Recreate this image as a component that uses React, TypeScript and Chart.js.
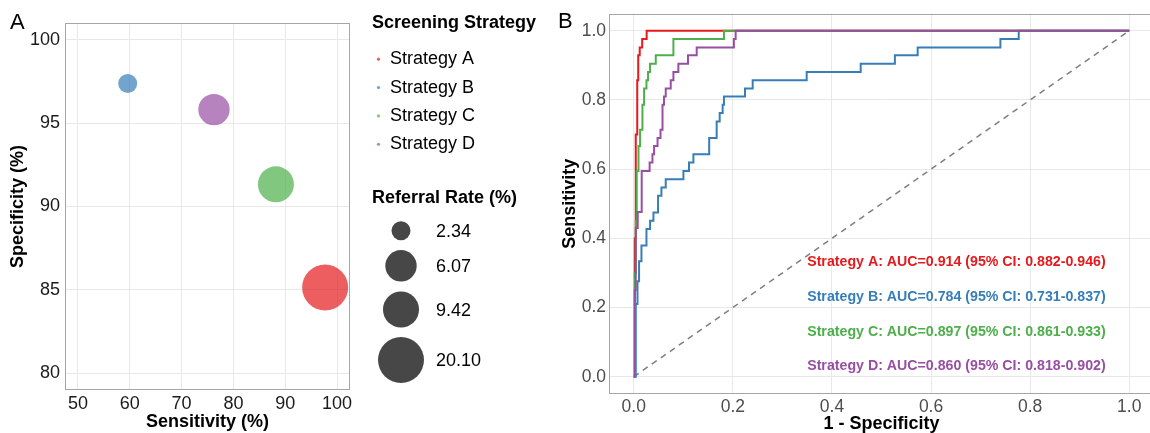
import React, { useEffect, useRef } from 'react';
import { Chart, registerables } from 'chart.js';

Chart.register(...registerables);

const FONT = '"Liberation Sans", Arial, Helvetica, sans-serif';

// ---------- Panel A data ----------
const strategies = ['Strategy A', 'Strategy B', 'Strategy C', 'Strategy D'];
const colors = ['#E41A1C', '#377EB8', '#4DAF4A', '#984EA3'];
const sensitivity = [97.7, 59.6, 88.2, 76.25];
const specificity = [85.15, 97.37, 91.33, 95.81];
const referralRate = [20.1, 2.34, 9.42, 6.07];
const referralBreaks = [2.34, 6.07, 9.42, 20.1];
const sensTicks = [50, 60, 70, 80, 90, 100];
const specTicks = [80, 85, 90, 95, 100];

// ---------- Panel B data (ROC step corners: FPR, TPR) ----------
const rocA_fpr = [0, 0.002, 0.004, 0.007, 0.009, 0.012, 0.017, 0.026, 1.0];
const rocA_tpr = [0, 0.4, 0.7, 0.857, 0.929, 0.952, 0.976, 1.0, 1.0];

const rocB_fpr = [0, 0.004, 0.0075, 0.0107, 0.0155, 0.0256, 0.0329, 0.0397, 0.049, 0.0558, 0.0645, 0.1002, 0.1115, 0.1204, 0.1522, 0.1673, 0.1734, 0.1794, 0.182, 0.2245, 0.24, 0.349, 0.458, 0.527, 0.573, 0.74, 0.777, 1.0];
const rocB_tpr = [0, 0.21, 0.276, 0.334, 0.379, 0.427, 0.451, 0.475, 0.523, 0.547, 0.571, 0.595, 0.619, 0.643, 0.69, 0.738, 0.762, 0.786, 0.81, 0.833, 0.857, 0.881, 0.905, 0.929, 0.952, 0.976, 1.0, 1.0];

const rocC_fpr = [0, 0.002, 0.004, 0.006, 0.0095, 0.0127, 0.0175, 0.0208, 0.0256, 0.0288, 0.0329, 0.0444, 0.08, 0.182, 1.0];
const rocC_tpr = [0, 0.3, 0.45, 0.595, 0.667, 0.714, 0.786, 0.833, 0.857, 0.881, 0.905, 0.929, 0.976, 1.0, 1.0];

const rocD_fpr = [0, 0.002, 0.004, 0.008, 0.016, 0.032, 0.0377, 0.041, 0.048, 0.054, 0.058, 0.061, 0.0645, 0.0746, 0.08, 0.09, 0.1095, 0.127, 0.202, 0.2056, 1.0];
const rocD_tpr = [0, 0.25, 0.43, 0.476, 0.595, 0.619, 0.643, 0.667, 0.69, 0.714, 0.786, 0.81, 0.833, 0.857, 0.881, 0.905, 0.929, 0.952, 0.976, 1.0, 1.0];

const auc = [0.914, 0.784, 0.897, 0.86];
const ciLow = [0.882, 0.731, 0.861, 0.818];
const ciHigh = [0.946, 0.837, 0.933, 0.902];
const labelY = [0.33, 0.23, 0.13, 0.03];
const labelX = 0.35;
const rocTicks = [0, 0.2, 0.4, 0.6, 0.8, 1.0];

function rgba(hex: string, a: number) {
  const n = parseInt(hex.slice(1), 16);
  return `rgba(${(n >> 16) & 255},${(n >> 8) & 255},${n & 255},${a})`;
}

const rMin = 9.5;
const rMax = 23;
function radius(v: number) {
  const lo = Math.min(...referralRate);
  const hi = Math.max(...referralRate);
  return rMin + (rMax - rMin) * Math.sqrt((v - lo) / (hi - lo));
}

function stepPoints(f: number[], t: number[]) {
  const pts = [{ x: f[0], y: t[0] }];
  for (let i = 1; i < f.length; i++) {
    pts.push({ x: f[i], y: t[i - 1] });
    pts.push({ x: f[i], y: t[i] });
  }
  return pts;
}

const framePlugin = {
  id: 'frame',
  afterDatasetsDraw(chart: any) {
    const { ctx, chartArea } = chart;
    ctx.save();
    ctx.strokeStyle = '#a6a6a6';
    ctx.lineWidth = 1;
    const l = Math.round(chartArea.left) + 0.5;
    const t = Math.round(chartArea.top) + 0.5;
    const r = Math.round(chartArea.right) - 0.5;
    const b = Math.round(chartArea.bottom) - 0.5;
    ctx.strokeRect(l, t, r - l, b - t);
    ctx.restore();
  },
};

const legendPluginA = {
  id: 'legendA',
  afterDraw(chart: any) {
    const ctx = chart.ctx;
    ctx.save();
    ctx.textAlign = 'left';
    ctx.fillStyle = '#000';
    ctx.font = `22px ${FONT}`;
    ctx.textBaseline = 'alphabetic';
    ctx.fillText('A', 10, 29);

    ctx.font = `bold 18px ${FONT}`;
    ctx.fillText('Screening Strategy', 372, 27.7);
    ctx.font = `18px ${FONT}`;
    ctx.textBaseline = 'middle';
    strategies.forEach((s, i) => {
      const y = 59.2 + i * 28.35;
      ctx.fillStyle = rgba(colors[i], 0.7);
      ctx.beginPath();
      ctx.arc(378.5, y, 1.6, 0, Math.PI * 2);
      ctx.fill();
      ctx.fillStyle = '#000';
      ctx.fillText(s, 390, y);
    });
    ctx.textBaseline = 'alphabetic';
    ctx.font = `bold 18px ${FONT}`;
    ctx.fillText('Referral Rate (%)', 372, 202.7);
    const ys = [230.8, 265.8, 309.5, 360];
    ctx.font = `18px ${FONT}`;
    ctx.textBaseline = 'middle';
    referralBreaks.forEach((v, i) => {
      ctx.fillStyle = 'rgba(0,0,0,0.72)';
      ctx.beginPath();
      ctx.arc(401, ys[i], radius(v), 0, Math.PI * 2);
      ctx.fill();
      ctx.fillStyle = '#000';
      ctx.fillText(v.toFixed(2), 436, ys[i] + 1.5);
    });
    ctx.restore();
  },
};

const annotPluginB = {
  id: 'annotB',
  afterDatasetsDraw(chart: any) {
    const ctx = chart.ctx;
    const xs = chart.scales.x;
    const ys = chart.scales.y;
    ctx.save();
    ctx.textAlign = 'left';
    ctx.textBaseline = 'middle';
    ctx.font = `bold 14.2px ${FONT}`;
    strategies.forEach((s, i) => {
      ctx.fillStyle = colors[i];
      const txt = `${s}: AUC=${auc[i].toFixed(3)} (95% CI: ${ciLow[i].toFixed(3)}-${ciHigh[i].toFixed(3)})`;
      ctx.fillText(txt, xs.getPixelForValue(labelX), ys.getPixelForValue(labelY[i]));
    });
    ctx.fillStyle = '#000';
    ctx.font = `22px ${FONT}`;
    ctx.textBaseline = 'alphabetic';
    ctx.fillText('B', 13, 28);
    ctx.restore();
  },
};

export default function App() {
  const refA = useRef<HTMLCanvasElement>(null);
  const refB = useRef<HTMLCanvasElement>(null);

  useEffect(() => {
    Chart.defaults.font.family = FONT;
    Chart.defaults.color = '#000';

    const chartA = new Chart(refA.current as HTMLCanvasElement, {
      type: 'bubble',
      data: {
        datasets: strategies.map((s, i) => ({
          label: s,
          data: [{ x: sensitivity[i], y: specificity[i], r: radius(referralRate[i]) }],
          backgroundColor: rgba(colors[i], 0.7),
          borderWidth: 0,
          hoverRadius: 0,
        })),
      },
      options: {
        animation: false,
        responsive: false,
        events: [],
        layout: { padding: { left: 0, top: 14, right: 195, bottom: 0 } },
        plugins: { legend: { display: false }, tooltip: { enabled: false } },
        scales: {
          x: {
            type: 'linear',
            min: 47.5,
            max: 102.5,
            afterBuildTicks: (s: any) => { s.ticks = sensTicks.map((v) => ({ value: v })); },
            afterFit: (s: any) => { s.height = 43; },
            grid: { color: '#e8e8e8', drawTicks: false, lineWidth: 1 },
            border: { display: false },
            ticks: { padding: 3, color: '#1a1a1a', font: { size: 18 }, maxRotation: 0 },
            title: { display: true, text: 'Sensitivity (%)', color: '#000', font: { size: 18, weight: 'bold' }, padding: { top: 0, bottom: 0 } },
          },
          y: {
            type: 'linear',
            min: 79,
            max: 101,
            afterBuildTicks: (s: any) => { s.ticks = specTicks.map((v) => ({ value: v })); },
            afterFit: (s: any) => { s.width = 65; },
            grid: { color: '#e8e8e8', drawTicks: false, lineWidth: 1 },
            border: { display: false },
            ticks: { padding: 5, color: '#1a1a1a', font: { size: 18 } },
            title: { display: true, text: 'Specificity (%)', color: '#000', font: { size: 18, weight: 'bold' }, padding: { top: 7, bottom: 0 } },
          },
        },
      } as any,
      plugins: [framePlugin, legendPluginA],
    });

    const rocs = [
      stepPoints(rocA_fpr, rocA_tpr),
      stepPoints(rocB_fpr, rocB_tpr),
      stepPoints(rocC_fpr, rocC_tpr),
      stepPoints(rocD_fpr, rocD_tpr),
    ];
    const orders = [3, 2, 1, 0];

    const chartB = new Chart(refB.current as HTMLCanvasElement, {
      type: 'line',
      data: {
        datasets: [
          ...rocs.map((pts, i) => ({
            label: strategies[i],
            data: pts,
            borderColor: colors[i],
            borderWidth: 2,
            pointRadius: 0,
            fill: false,
            tension: 0,
            order: orders[i],
          })),
          {
            label: 'ref',
            data: [{ x: 0, y: 0 }, { x: 1, y: 1 }],
            borderColor: '#7f7f7f',
            borderWidth: 1.5,
            borderDash: [6, 5],
            pointRadius: 0,
            fill: false,
            order: 10,
          },
        ],
      },
      options: {
        animation: false,
        responsive: false,
        events: [],
        layout: { padding: { left: 0, top: 11, right: 6, bottom: 0 } },
        plugins: { legend: { display: false }, tooltip: { enabled: false } },
        scales: {
          x: {
            type: 'linear',
            min: -0.05,
            max: 1.05,
            afterBuildTicks: (s: any) => { s.ticks = rocTicks.map((v) => ({ value: v })); },
            afterFit: (s: any) => { s.height = 46; },
            grid: { color: '#e8e8e8', drawTicks: false, lineWidth: 1 },
            border: { display: false },
            ticks: { padding: 3, color: '#4d4d4d', font: { size: 17.5 }, maxRotation: 0, callback: (v: any) => Number(v).toFixed(1) },
            title: { display: true, text: '1 - Specificity', color: '#000', font: { size: 18, weight: 'bold' }, padding: { top: 0, bottom: 5.5 } },
          },
          y: {
            type: 'linear',
            min: -0.05,
            max: 1.05,
            afterBuildTicks: (s: any) => { s.ticks = rocTicks.map((v) => ({ value: v })); },
            afterFit: (s: any) => { s.width = 64; },
            grid: { color: '#e8e8e8', drawTicks: false, lineWidth: 1 },
            border: { display: false },
            ticks: { padding: 3, color: '#4d4d4d', font: { size: 17.5 }, callback: (v: any) => Number(v).toFixed(1) },
            title: { display: true, text: 'Sensitivity', color: '#000', font: { size: 18, weight: 'bold' }, padding: { top: 14, bottom: 0 } },
          },
        },
      } as any,
      plugins: [framePlugin, annotPluginB],
    });

    return () => {
      chartA.destroy();
      chartB.destroy();
    };
  }, []);

  return (
    <div style={{ position: 'fixed', left: 0, top: 0, width: 1150, height: 433, overflow: 'hidden', background: '#fff' }}>
      <canvas ref={refA} width={545} height={433} style={{ position: 'absolute', left: 0, top: 0, width: 545, height: 433 }} />
      <canvas ref={refB} width={615} height={440} style={{ position: 'absolute', left: 545, top: 0, width: 615, height: 440 }} />
    </div>
  );
}
